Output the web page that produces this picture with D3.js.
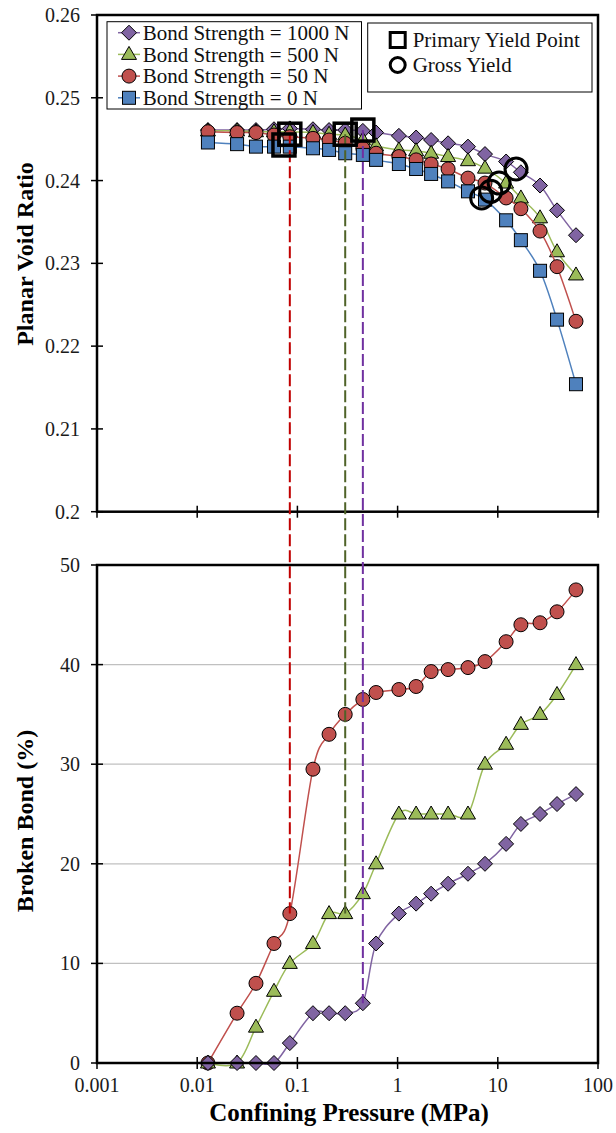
<!DOCTYPE html>
<html><head><meta charset="utf-8">
<script src="https://cdn.jsdelivr.net/npm/d3@7/dist/d3.min.js"></script>
<style>
html,body{margin:0;padding:0;background:#fff;}
svg{display:block;font-family:"Liberation Serif","Times New Roman",serif;}
</style></head>
<body>
<svg id="chart" width="616" height="1133"></svg>
<script>
// ---------- data ----------
const pressure = [0.0128, 0.025, 0.0386, 0.0584, 0.084, 0.143, 0.207, 0.3, 0.45, 0.61, 1.03, 1.53, 2.16, 3.19, 5.04, 7.45, 12.1, 17.0, 26.4, 39.0, 60.3];
const seriesNames = ["Bond Strength = 1000 N", "Bond Strength = 500 N", "Bond Strength = 50 N", "Bond Strength = 0 N"];
const voidRatio1000 = [0.2461,0.2461,0.2461,0.2462,0.2463,0.2462,0.2461,0.2461,0.2460,0.2458,0.2454,0.2452,0.2449,0.2445,0.2441,0.2432,0.2423,0.2410,0.2394,0.2364,0.2334];
const voidRatio500  = [0.2460,0.2460,0.2459,0.2459,0.2459,0.2458,0.2456,0.2455,0.2449,0.2442,0.2437,0.2436,0.2433,0.2429,0.2424,0.2415,0.2397,0.2379,0.2355,0.2314,0.2286];
const voidRatio50   = [0.2459,0.2458,0.2458,0.2455,0.2453,0.2451,0.2449,0.2445,0.2439,0.2433,0.2429,0.2425,0.2420,0.2414,0.2403,0.2397,0.2379,0.2366,0.2339,0.2296,0.2230];
const voidRatio0    = [0.2446,0.2444,0.2441,0.2441,0.2441,0.2439,0.2437,0.2433,0.2431,0.2425,0.2420,0.2414,0.2408,0.2399,0.2387,0.2377,0.2352,0.2328,0.2291,0.2232,0.2154];
const brokenBond1000 = [0,0,0,0,2,5,5,5,6,12,15,16,17,18,19,20,22,24,25,26,27];
const brokenBond500  = [0,0,3.6,7.2,10,12,15,15,17,20,25,25,25,25,25,30,32,34,35,37,40];
const brokenBond50   = [0,5,8,12,15,29.5,33,35,36.5,37.2,37.5,37.8,39.3,39.5,39.7,40.3,42.3,44,44.2,45.3,47.5];
const primaryYieldP = [0.0734, 0.084, 0.3, 0.45];
const primaryYieldE = [0.2443, 0.2456, 0.2456, 0.2461];
const grossYieldP = [6.9, 8.5, 10.3, 15.2];
const grossYieldE = [0.2379, 0.2387, 0.2397, 0.2414];
const dashP = [0.084, 0.3, 0.45];
const dashTopE = [0.2456, 0.2456, 0.2461];
const dashBond = [15, 15, 6];
const xTicks = [0.001, 0.01, 0.1, 1, 10, 100];
const xTickLabels = ["0.001", "0.01", "0.1", "1", "10", "100"];
const yTopTicks = [0.2, 0.21, 0.22, 0.23, 0.24, 0.25, 0.26];
const yTopLabels = ["0.2", "0.21", "0.22", "0.23", "0.24", "0.25", "0.26"];
const yBotTicks = [0, 10, 20, 30, 40, 50];
const yBotLabels = ["0", "10", "20", "30", "40", "50"];

// ---------- styles ----------
const colors = ["#8064A2", "#9BBB59", "#C0504D", "#4F81BD"];
const shapes = ["diamond", "triangle", "circle", "square"];
const dashColors = ["#C00000", "#4F6228", "#7030A0"];

const svg = d3.select("#chart");
const L = 97, R = 598;
const x = d3.scaleLog().domain([0.001, 100]).range([L, R]);
const yTop = d3.scaleLinear().domain([0.2, 0.26]).range([511.7, 15]);
const yBot = d3.scaleLinear().domain([0, 50]).range([1063, 565]);

function marker(g, shape, cx, cy, fill) {
  let el;
  if (shape === "circle") el = g.append("circle").attr("cx", cx).attr("cy", cy).attr("r", 7);
  else if (shape === "square") el = g.append("rect").attr("x", cx - 6.5).attr("y", cy - 6.5).attr("width", 13).attr("height", 13);
  else if (shape === "diamond") el = g.append("path").attr("d", `M${cx},${cy-7.5}L${cx+7.5},${cy}L${cx},${cy+7.5}L${cx-7.5},${cy}Z`);
  else el = g.append("path").attr("d", `M${cx},${cy-8}L${cx+7.5},${cy+5}L${cx-7.5},${cy+5}Z`);
  el.attr("fill", fill).attr("stroke", "#000").attr("stroke-width", 1);
}

function drawGrid(yScale, ticks) {
  const g = svg.append("g");
  ticks.slice(1, -1).forEach(t => {
    g.append("line").attr("x1", L).attr("x2", R).attr("y1", yScale(t)).attr("y2", yScale(t))
      .attr("stroke", "#C0C0C0").attr("stroke-width", 1.3);
  });
}
function drawAxes(yScale, ticks, labels, top, bottom, showX) {
  const g = svg.append("g");
  g.append("rect").attr("x", L).attr("y", top).attr("width", R - L).attr("height", bottom - top)
    .attr("fill", "none").attr("stroke", "#000").attr("stroke-width", 2.5);
  ticks.forEach((t, i) => {
    const yy = yScale(t);
    g.append("line").attr("x1", L - 6).attr("x2", L + 6).attr("y1", yy).attr("y2", yy).attr("stroke", "#000").attr("stroke-width", 1.5);
    g.append("text").attr("x", 80).attr("y", yy).attr("dy", "0.35em").attr("text-anchor", "end")
      .attr("font-size", 20).attr("fill", "#1a1a1a").text(labels[i]);
  });
  xTicks.forEach((t, i) => {
    const xx = x(t);
    g.append("line").attr("x1", xx).attr("x2", xx).attr("y1", bottom - 6).attr("y2", bottom + 6).attr("stroke", "#000").attr("stroke-width", 1.5);
    if (showX) g.append("text").attr("x", xx).attr("y", bottom + 29).attr("text-anchor", "middle")
      .attr("font-size", 20).attr("fill", "#1a1a1a").text(xTickLabels[i]);
  });
}

// ---------- top chart ----------
const topSeries = [voidRatio1000, voidRatio500, voidRatio50, voidRatio0];
const lineTop = d3.line().x(d => x(d[0])).y(d => yTop(d[1])).curve(d3.curveCardinal.tension(0));
const topG = svg.append("g");
topSeries.forEach((vals, si) => {
  const pts = pressure.map((p, i) => [p, vals[i]]);
  topG.append("path").attr("d", lineTop(pts)).attr("fill", "none").attr("stroke", colors[si]).attr("stroke-width", 1.5);
  pts.forEach(d => marker(topG, shapes[si], x(d[0]), yTop(d[1]), colors[si]));
});

// ---------- bottom chart ----------
drawGrid(yBot, yBotTicks);
const botSeries = [brokenBond50, brokenBond500, brokenBond1000];
const botIdx = [2, 1, 0];
const lineBot = d3.line().x(d => x(d[0])).y(d => yBot(d[1])).curve(d3.curveCardinal.tension(0));
const botG = svg.append("g");
botSeries.forEach((vals, k) => {
  const si = botIdx[k];
  const pts = pressure.map((p, i) => [p, vals[i]]);
  botG.append("path").attr("d", lineBot(pts)).attr("fill", "none").attr("stroke", colors[si]).attr("stroke-width", 1.5);
  pts.forEach(d => marker(botG, shapes[si], x(d[0]), yBot(d[1]), colors[si]));
});

drawAxes(yTop, yTopTicks, yTopLabels, 15, 511.7, false);
drawAxes(yBot, yBotTicks, yBotLabels, 565, 1063, true);

// ---------- dashed connectors ----------
dashP.forEach((p, i) => {
  svg.append("line").attr("x1", x(p)).attr("x2", x(p)).attr("y1", yTop(dashTopE[i])).attr("y2", yBot(dashBond[i]))
    .attr("stroke", dashColors[i]).attr("stroke-width", 2).attr("stroke-dasharray", "12,4");
});

// ---------- yield markers ----------
primaryYieldP.forEach((p, i) => {
  svg.append("rect").attr("x", x(p) - 11).attr("y", yTop(primaryYieldE[i]) - 11).attr("width", 22).attr("height", 22)
    .attr("fill", "none").attr("stroke", "#000").attr("stroke-width", 3.5);
});
grossYieldP.forEach((p, i) => {
  svg.append("circle").attr("cx", x(p)).attr("cy", yTop(grossYieldE[i])).attr("r", 11)
    .attr("fill", "none").attr("stroke", "#000").attr("stroke-width", 3);
});

// ---------- legends ----------
const lg = svg.append("g");
lg.append("rect").attr("x", 107).attr("y", 21.7).attr("width", 254.5).attr("height", 87.3)
  .attr("fill", "#fff").attr("stroke", "#000").attr("stroke-width", 1);
seriesNames.forEach((n, i) => {
  const yy = 32.7 + i * 21.7;
  lg.append("line").attr("x1", 118).attr("x2", 140).attr("y1", yy).attr("y2", yy).attr("stroke", colors[i]).attr("stroke-width", 1.5);
  marker(lg, shapes[i], 129, yy, colors[i]);
  lg.append("text").attr("x", 142.7).attr("y", yy).attr("dy", "0.35em").attr("font-size", 21).attr("fill", "#111").text(n);
});
const lg2 = svg.append("g");
lg2.append("rect").attr("x", 367.7).attr("y", 23).attr("width", 224.3).attr("height", 69)
  .attr("fill", "#fff").attr("stroke", "#000").attr("stroke-width", 1);
lg2.append("rect").attr("x", 397.7 - 7.5).attr("y", 40 - 7.5).attr("width", 15).attr("height", 15)
  .attr("fill", "none").attr("stroke", "#000").attr("stroke-width", 3);
lg2.append("circle").attr("cx", 397.7).attr("cy", 65).attr("r", 7.5)
  .attr("fill", "none").attr("stroke", "#000").attr("stroke-width", 3);
lg2.append("text").attr("x", 412.7).attr("y", 40).attr("dy", "0.35em").attr("font-size", 21).attr("fill", "#111").text("Primary Yield Point");
lg2.append("text").attr("x", 412.7).attr("y", 65).attr("dy", "0.35em").attr("font-size", 21).attr("fill", "#111").text("Gross Yield");

// ---------- axis titles ----------
svg.append("text").attr("transform", "translate(33,254) rotate(-90)").attr("text-anchor", "middle")
  .attr("font-size", 24).attr("font-weight", "bold").text("Planar Void Ratio");
svg.append("text").attr("transform", "translate(33,821) rotate(-90)").attr("text-anchor", "middle")
  .attr("font-size", 24).attr("font-weight", "bold").text("Broken Bond (%)");
svg.append("text").attr("x", 349).attr("y", 1121).attr("text-anchor", "middle")
  .attr("font-size", 25).attr("font-weight", "bold").text("Confining Pressure (MPa)");
</script>
</body></html>
